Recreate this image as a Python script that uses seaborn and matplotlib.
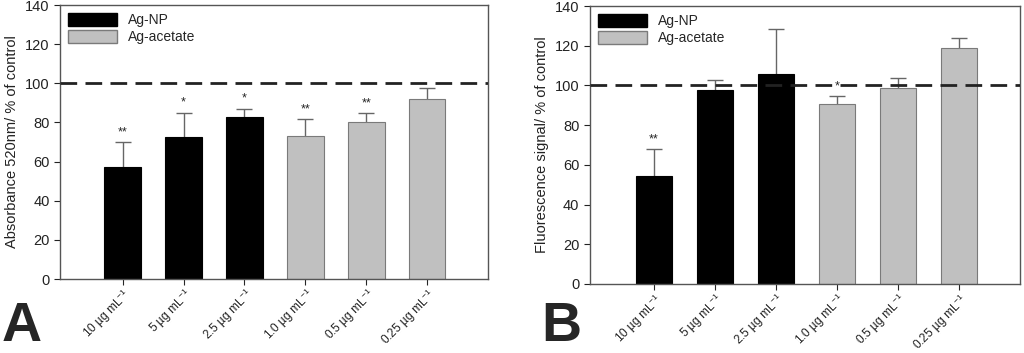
import numpy as np
import pandas as pd
import seaborn as sns
import matplotlib.pyplot as plt

# concentrations and groups
doses = ['10 µg mL$^{-1}$', '5 µg mL$^{-1}$', '2.5 µg mL$^{-1}$',
         '1.0 µg mL$^{-1}$', '0.5 µg mL$^{-1}$', '0.25 µg mL$^{-1}$']
groups = ['Ag-NP', 'Ag-NP', 'Ag-NP', 'Ag-acetate', 'Ag-acetate', 'Ag-acetate']

# panel A: absorbance
abs_mean = [57, 72.4, 83, 73, 80.3, 91.8]
abs_err = [13, 12.6, 4, 8.6, 4.4, 5.6]
abs_sig = ['**', '*', '*', '**', '**', '']

# panel B: fluorescence
fl_mean = [54.6, 97.6, 105.7, 90.8, 98.5, 119]
fl_err = [13.4, 5.3, 22.7, 3.7, 5.2, 5]
fl_sig = ['**', '', '', '*', '', '']

sns.set_style('ticks')
plt.rcParams['font.family'] = ['Liberation Sans', 'DejaVu Sans']
plt.rcParams['mathtext.fontset'] = 'custom'
plt.rcParams['mathtext.rm'] = 'Liberation Sans'

fig = plt.figure(figsize=(10.24, 3.53), dpi=100)
axA = fig.add_axes([0.0586, 0.2096, 0.418, 0.776])
axB = fig.add_axes([0.576, 0.1955, 0.42, 0.7875])

pal = {'Ag-NP': '#000000', 'Ag-acetate': '#c0c0c0'}
edge = {'Ag-NP': '#000000', 'Ag-acetate': '#7a7a7a'}


def panel(ax, means, errs, sig, ylabel, xleft):
    df = pd.DataFrame({'dose': doses, 'value': means, 'group': groups})
    sns.barplot(data=df, x='dose', y='value', hue='group', palette=pal,
                dodge=False, width=0.6, ax=ax, legend=False, saturation=1)
    for bar, g in zip(ax.patches, groups):
        bar.set_edgecolor(edge[g])
        bar.set_linewidth(0.8)
        bar.set_zorder(2)
    xs = np.arange(len(doses))
    tops = np.array(means) + np.array(errs)
    # upper error only, cap on top
    ax.vlines(xs, means, tops, color='#666666', lw=1, zorder=1)
    ax.plot(xs, tops, ls='none', marker='_', ms=12, mew=1, color='#666666', zorder=1)
    for x, t, s in zip(xs, tops, sig):
        if s:
            ax.text(x, t + 2, s, ha='center', va='bottom', fontsize=9)
    ax.axhline(100, color='#222222', lw=2, ls=(0, (6, 3)), zorder=3)
    ax.set_xlim(xleft, 6)
    ax.set_ylim(0, 140)
    ax.set_yticks(range(0, 141, 20))
    ax.set_xlabel('')
    ax.set_ylabel(ylabel, fontsize=10.5, color='#222222')
    ax.set_xticks(xs)
    ax.set_xticklabels(doses, rotation=45, ha='right', rotation_mode='anchor',
                       fontsize=8.6, color='#222222')
    ax.tick_params(axis='y', labelsize=10.5, colors='#222222', length=4)
    ax.tick_params(axis='x', length=4, pad=1)
    for sp in ax.spines.values():
        sp.set_visible(True)
        sp.set_color('#555555')
        sp.set_linewidth(1)
    handles = [plt.Rectangle((0, 0), 1, 1, fc=pal[g], ec=edge[g]) for g in ['Ag-NP', 'Ag-acetate']]
    ax.legend(handles, ['Ag-NP', 'Ag-acetate'], loc='upper left', frameon=False,
              fontsize=10, handlelength=3.5, handleheight=1.0,
              borderaxespad=0.2, labelspacing=0.2)


panel(axA, abs_mean, abs_err, abs_sig, 'Absorbance 520nm/ % of control', -1.03)
panel(axB, fl_mean, fl_err, fl_sig, 'Fluorescence signal/ % of control', -1.05)

fig.text(0.002, 0.0, 'A', fontsize=40, fontweight='bold', va='bottom', ha='left')
fig.text(0.529, 0.0, 'B', fontsize=40, fontweight='bold', va='bottom', ha='left')

fig.savefig('out.png', dpi=100)
